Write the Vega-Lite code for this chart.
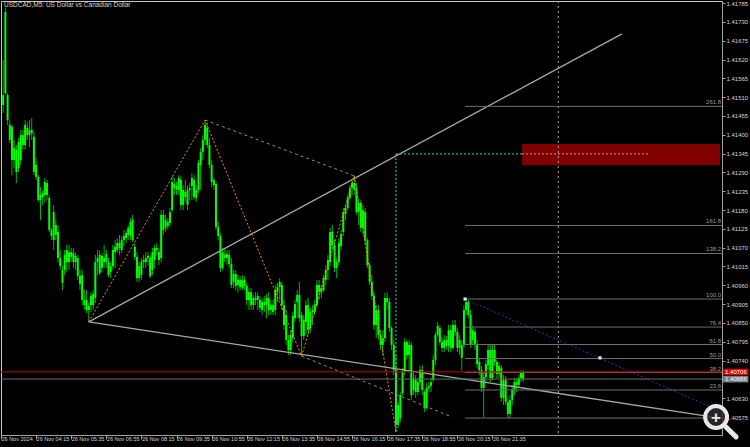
{
"$schema":"https://vega.github.io/schema/vega-lite/v6.json",
"width":721,"height":434,
"autosize":{"type":"none"},
"padding":{"left":1,"top":1,"right":28,"bottom":12},
"background":"#000000",
"config":{"view":{"stroke":"#c8c8c8","strokeWidth":1},"font":"Liberation Sans","axis":{"labelOverlap":false,"labelBound":false,"labelFlush":false}},
"title":{"text":"USDCAD,M5:  US Dollar vs Canadian Dollar","anchor":"start","frame":"group","orient":"top","offset":-8,"baseline":"top","dx":3,"fontSize":6.5,"fontWeight":"normal","color":"#d4d4d4","font":"Liberation Sans"},
"datasets":{
"bars":[
{"i":1,"o":1.41487,"h":1.41619,"l":1.41464,"c":1.41516},
{"i":2,"o":1.41759,"h":1.41771,"l":1.41516,"c":1.41522},
{"i":3,"o":1.41516,"h":1.41522,"l":1.41429,"c":1.41443},
{"i":4,"o":1.41429,"h":1.41443,"l":1.41376,"c":1.41385},
{"i":5,"o":1.41423,"h":1.41429,"l":1.41282,"c":1.41326},
{"i":6,"o":1.41326,"h":1.41385,"l":1.41303,"c":1.41361},
{"i":7,"o":1.41356,"h":1.41370,"l":1.41259,"c":1.41291},
{"i":8,"o":1.41303,"h":1.41391,"l":1.41291,"c":1.41379},
{"i":9,"o":1.41326,"h":1.41414,"l":1.41312,"c":1.41399},
{"i":10,"o":1.41399,"h":1.41414,"l":1.41356,"c":1.41370},
{"i":11,"o":1.41370,"h":1.41443,"l":1.41356,"c":1.41429},
{"i":12,"o":1.41420,"h":1.41437,"l":1.41385,"c":1.41399},
{"i":13,"o":1.41399,"h":1.41443,"l":1.41364,"c":1.41414},
{"i":14,"o":1.41414,"h":1.41449,"l":1.41385,"c":1.41405},
{"i":15,"o":1.41394,"h":1.41408,"l":1.41282,"c":1.41291},
{"i":16,"o":1.41312,"h":1.41332,"l":1.41268,"c":1.41277},
{"i":17,"o":1.41277,"h":1.41282,"l":1.41204,"c":1.41209},
{"i":18,"o":1.41209,"h":1.41247,"l":1.41151,"c":1.41224},
{"i":19,"o":1.41218,"h":1.41239,"l":1.41195,"c":1.41230},
{"i":20,"o":1.41224,"h":1.41274,"l":1.41201,"c":1.41262},
{"i":21,"o":1.41259,"h":1.41268,"l":1.41209,"c":1.41224},
{"i":22,"o":1.41215,"h":1.41224,"l":1.41116,"c":1.41122},
{"i":23,"o":1.41122,"h":1.41128,"l":1.41092,"c":1.41104},
{"i":24,"o":1.41092,"h":1.41195,"l":1.41063,"c":1.41174},
{"i":25,"o":1.41136,"h":1.41151,"l":1.41092,"c":1.41107},
{"i":26,"o":1.41116,"h":1.41136,"l":1.41028,"c":1.41040},
{"i":27,"o":1.41040,"h":1.41063,"l":1.41005,"c":1.41016},
{"i":28,"o":1.41005,"h":1.41019,"l":1.40946,"c":1.40967},
{"i":29,"o":1.41005,"h":1.41063,"l":1.40990,"c":1.41049},
{"i":30,"o":1.41028,"h":1.41078,"l":1.40999,"c":1.41063},
{"i":31,"o":1.41057,"h":1.41078,"l":1.41005,"c":1.41028},
{"i":32,"o":1.41043,"h":1.41069,"l":1.41028,"c":1.41057},
{"i":33,"o":1.41054,"h":1.41069,"l":1.41011,"c":1.41028},
{"i":34,"o":1.41028,"h":1.41057,"l":1.41005,"c":1.41046},
{"i":35,"o":1.41040,"h":1.41049,"l":1.40976,"c":1.40987},
{"i":36,"o":1.40987,"h":1.41005,"l":1.40946,"c":1.40964},
{"i":37,"o":1.40990,"h":1.41005,"l":1.40902,"c":1.40917},
{"i":38,"o":1.40917,"h":1.40946,"l":1.40888,"c":1.40902},
{"i":39,"o":1.40917,"h":1.40946,"l":1.40879,"c":1.40888},
{"i":40,"o":1.40888,"h":1.40911,"l":1.40853,"c":1.40900},
{"i":41,"o":1.40902,"h":1.40940,"l":1.40882,"c":1.40929},
{"i":42,"o":1.40902,"h":1.40946,"l":1.40888,"c":1.40935},
{"i":43,"o":1.40923,"h":1.41049,"l":1.40908,"c":1.41028},
{"i":44,"o":1.41028,"h":1.41063,"l":1.40990,"c":1.41040},
{"i":45,"o":1.41049,"h":1.41063,"l":1.40990,"c":1.40996},
{"i":46,"o":1.41011,"h":1.41054,"l":1.40999,"c":1.41046},
{"i":47,"o":1.41040,"h":1.41078,"l":1.41011,"c":1.41028},
{"i":48,"o":1.41028,"h":1.41063,"l":1.41011,"c":1.41052},
{"i":49,"o":1.41028,"h":1.41040,"l":1.40984,"c":1.40990},
{"i":50,"o":1.40999,"h":1.41028,"l":1.40981,"c":1.41016},
{"i":51,"o":1.41016,"h":1.41078,"l":1.41005,"c":1.41063},
{"i":52,"o":1.41057,"h":1.41092,"l":1.41011,"c":1.41072},
{"i":53,"o":1.41063,"h":1.41098,"l":1.41054,"c":1.41084},
{"i":54,"o":1.41084,"h":1.41107,"l":1.41049,"c":1.41069},
{"i":55,"o":1.41063,"h":1.41104,"l":1.41054,"c":1.41092},
{"i":56,"o":1.41092,"h":1.41122,"l":1.41075,"c":1.41104},
{"i":57,"o":1.41098,"h":1.41122,"l":1.41084,"c":1.41113},
{"i":58,"o":1.41107,"h":1.41136,"l":1.41092,"c":1.41128},
{"i":59,"o":1.41104,"h":1.41157,"l":1.41092,"c":1.41145},
{"i":60,"o":1.41151,"h":1.41166,"l":1.41087,"c":1.41092},
{"i":61,"o":1.41072,"h":1.41084,"l":1.41034,"c":1.41043},
{"i":62,"o":1.41043,"h":1.41057,"l":1.40970,"c":1.40981},
{"i":63,"o":1.40981,"h":1.41028,"l":1.40970,"c":1.41016},
{"i":64,"o":1.40990,"h":1.41040,"l":1.40976,"c":1.41028},
{"i":65,"o":1.41028,"h":1.41049,"l":1.41011,"c":1.41034},
{"i":66,"o":1.41028,"h":1.41057,"l":1.41011,"c":1.41040},
{"i":67,"o":1.41040,"h":1.41057,"l":1.41019,"c":1.41046},
{"i":68,"o":1.41040,"h":1.41049,"l":1.40981,"c":1.40987},
{"i":69,"o":1.41005,"h":1.41069,"l":1.40990,"c":1.41057},
{"i":70,"o":1.41034,"h":1.41078,"l":1.41011,"c":1.41069},
{"i":71,"o":1.41069,"h":1.41084,"l":1.41049,"c":1.41063},
{"i":72,"o":1.41057,"h":1.41069,"l":1.41019,"c":1.41034},
{"i":73,"o":1.41040,"h":1.41180,"l":1.41028,"c":1.41166},
{"i":74,"o":1.41166,"h":1.41180,"l":1.41107,"c":1.41122},
{"i":75,"o":1.41128,"h":1.41166,"l":1.41116,"c":1.41151},
{"i":76,"o":1.41145,"h":1.41157,"l":1.41122,"c":1.41133},
{"i":77,"o":1.41142,"h":1.41186,"l":1.41133,"c":1.41174},
{"i":78,"o":1.41180,"h":1.41280,"l":1.41174,"c":1.41262},
{"i":79,"o":1.41256,"h":1.41274,"l":1.41224,"c":1.41244},
{"i":80,"o":1.41239,"h":1.41262,"l":1.41224,"c":1.41250},
{"i":81,"o":1.41239,"h":1.41282,"l":1.41224,"c":1.41274},
{"i":82,"o":1.41268,"h":1.41280,"l":1.41180,"c":1.41195},
{"i":83,"o":1.41195,"h":1.41253,"l":1.41180,"c":1.41239},
{"i":84,"o":1.41233,"h":1.41268,"l":1.41204,"c":1.41218},
{"i":85,"o":1.41195,"h":1.41253,"l":1.41180,"c":1.41239},
{"i":86,"o":1.41239,"h":1.41259,"l":1.41209,"c":1.41244},
{"i":87,"o":1.41250,"h":1.41288,"l":1.41209,"c":1.41274},
{"i":88,"o":1.41268,"h":1.41282,"l":1.41209,"c":1.41218},
{"i":89,"o":1.41215,"h":1.41253,"l":1.41204,"c":1.41239},
{"i":90,"o":1.41239,"h":1.41326,"l":1.41230,"c":1.41318},
{"i":91,"o":1.41312,"h":1.41361,"l":1.41239,"c":1.41350},
{"i":92,"o":1.41350,"h":1.41399,"l":1.41326,"c":1.41385},
{"i":93,"o":1.41385,"h":1.41443,"l":1.41370,"c":1.41429},
{"i":94,"o":1.41420,"h":1.41434,"l":1.41361,"c":1.41370},
{"i":95,"o":1.41370,"h":1.41391,"l":1.41303,"c":1.41312},
{"i":96,"o":1.41312,"h":1.41326,"l":1.41247,"c":1.41262},
{"i":97,"o":1.41268,"h":1.41274,"l":1.41239,"c":1.41253},
{"i":98,"o":1.41256,"h":1.41262,"l":1.41122,"c":1.41130},
{"i":99,"o":1.41130,"h":1.41145,"l":1.41092,"c":1.41104},
{"i":100,"o":1.41104,"h":1.41113,"l":1.40999,"c":1.41011},
{"i":101,"o":1.41011,"h":1.41069,"l":1.41005,"c":1.41057},
{"i":102,"o":1.41049,"h":1.41069,"l":1.41028,"c":1.41040},
{"i":103,"o":1.41040,"h":1.41063,"l":1.41019,"c":1.41052},
{"i":104,"o":1.41049,"h":1.41063,"l":1.41011,"c":1.41022},
{"i":105,"o":1.41022,"h":1.41040,"l":1.40952,"c":1.40961},
{"i":106,"o":1.40970,"h":1.41005,"l":1.40952,"c":1.40993},
{"i":107,"o":1.40993,"h":1.41005,"l":1.40946,"c":1.40958},
{"i":108,"o":1.40961,"h":1.40990,"l":1.40940,"c":1.40976},
{"i":109,"o":1.40976,"h":1.40987,"l":1.40946,"c":1.40955},
{"i":110,"o":1.40952,"h":1.40990,"l":1.40946,"c":1.40976},
{"i":111,"o":1.40976,"h":1.40987,"l":1.40946,"c":1.40958},
{"i":112,"o":1.40958,"h":1.40967,"l":1.40902,"c":1.40917},
{"i":113,"o":1.40917,"h":1.40952,"l":1.40888,"c":1.40940},
{"i":114,"o":1.40940,"h":1.40952,"l":1.40888,"c":1.40902},
{"i":115,"o":1.40902,"h":1.40932,"l":1.40888,"c":1.40923},
{"i":116,"o":1.40923,"h":1.40940,"l":1.40902,"c":1.40917},
{"i":117,"o":1.40917,"h":1.40940,"l":1.40888,"c":1.40929},
{"i":118,"o":1.40917,"h":1.40929,"l":1.40882,"c":1.40894},
{"i":119,"o":1.40888,"h":1.40923,"l":1.40873,"c":1.40911},
{"i":120,"o":1.40911,"h":1.40929,"l":1.40882,"c":1.40902},
{"i":121,"o":1.40902,"h":1.40935,"l":1.40864,"c":1.40923},
{"i":122,"o":1.40923,"h":1.40940,"l":1.40873,"c":1.40888},
{"i":123,"o":1.40888,"h":1.40917,"l":1.40873,"c":1.40902},
{"i":124,"o":1.40902,"h":1.40917,"l":1.40873,"c":1.40882},
{"i":125,"o":1.40888,"h":1.40961,"l":1.40873,"c":1.40946},
{"i":126,"o":1.40940,"h":1.40967,"l":1.40911,"c":1.40955},
{"i":127,"o":1.40955,"h":1.40981,"l":1.40917,"c":1.40970},
{"i":128,"o":1.40961,"h":1.40970,"l":1.40888,"c":1.40902},
{"i":129,"o":1.40902,"h":1.40917,"l":1.40829,"c":1.40844},
{"i":130,"o":1.40873,"h":1.40888,"l":1.40786,"c":1.40800},
{"i":131,"o":1.40800,"h":1.40815,"l":1.40756,"c":1.40771},
{"i":132,"o":1.40771,"h":1.40829,"l":1.40756,"c":1.40815},
{"i":133,"o":1.40806,"h":1.40882,"l":1.40794,"c":1.40870},
{"i":134,"o":1.40864,"h":1.40917,"l":1.40853,"c":1.40905},
{"i":135,"o":1.40911,"h":1.40946,"l":1.40864,"c":1.40932},
{"i":136,"o":1.40932,"h":1.40970,"l":1.40853,"c":1.40864},
{"i":137,"o":1.40873,"h":1.40882,"l":1.40753,"c":1.40812},
{"i":138,"o":1.40812,"h":1.40873,"l":1.40800,"c":1.40859},
{"i":139,"o":1.40853,"h":1.40917,"l":1.40815,"c":1.40902},
{"i":140,"o":1.40902,"h":1.40923,"l":1.40815,"c":1.40829},
{"i":141,"o":1.40835,"h":1.40894,"l":1.40821,"c":1.40882},
{"i":142,"o":1.40882,"h":1.40902,"l":1.40844,"c":1.40888},
{"i":143,"o":1.40882,"h":1.40917,"l":1.40873,"c":1.40905},
{"i":144,"o":1.40902,"h":1.40976,"l":1.40894,"c":1.40961},
{"i":145,"o":1.40961,"h":1.40976,"l":1.40917,"c":1.40940},
{"i":146,"o":1.40940,"h":1.40961,"l":1.40923,"c":1.40952},
{"i":147,"o":1.40946,"h":1.40990,"l":1.40940,"c":1.40981},
{"i":148,"o":1.40976,"h":1.41019,"l":1.40961,"c":1.41005},
{"i":149,"o":1.41005,"h":1.41049,"l":1.40976,"c":1.41034},
{"i":150,"o":1.41028,"h":1.41128,"l":1.41016,"c":1.41116},
{"i":151,"o":1.41116,"h":1.41136,"l":1.41063,"c":1.41078},
{"i":152,"o":1.41078,"h":1.41092,"l":1.40999,"c":1.41011},
{"i":153,"o":1.41011,"h":1.41040,"l":1.40981,"c":1.41028},
{"i":154,"o":1.41028,"h":1.41098,"l":1.41019,"c":1.41084},
{"i":155,"o":1.41075,"h":1.41122,"l":1.41063,"c":1.41110},
{"i":156,"o":1.41116,"h":1.41186,"l":1.41104,"c":1.41174},
{"i":157,"o":1.41168,"h":1.41195,"l":1.41151,"c":1.41186},
{"i":158,"o":1.41186,"h":1.41224,"l":1.41180,"c":1.41215},
{"i":159,"o":1.41215,"h":1.41253,"l":1.41209,"c":1.41244},
{"i":160,"o":1.41244,"h":1.41265,"l":1.41224,"c":1.41259},
{"i":161,"o":1.41259,"h":1.41280,"l":1.41224,"c":1.41239},
{"i":162,"o":1.41244,"h":1.41259,"l":1.41166,"c":1.41174},
{"i":163,"o":1.41174,"h":1.41215,"l":1.41136,"c":1.41201},
{"i":164,"o":1.41201,"h":1.41209,"l":1.41116,"c":1.41128},
{"i":165,"o":1.41128,"h":1.41195,"l":1.41107,"c":1.41180},
{"i":166,"o":1.41174,"h":1.41186,"l":1.41078,"c":1.41092},
{"i":167,"o":1.41092,"h":1.41098,"l":1.41011,"c":1.41019},
{"i":168,"o":1.41019,"h":1.41028,"l":1.40961,"c":1.40970},
{"i":169,"o":1.40970,"h":1.40990,"l":1.40917,"c":1.40929},
{"i":170,"o":1.40929,"h":1.40940,"l":1.40829,"c":1.40844},
{"i":171,"o":1.40844,"h":1.40902,"l":1.40806,"c":1.40888},
{"i":172,"o":1.40888,"h":1.40902,"l":1.40800,"c":1.40815},
{"i":173,"o":1.40815,"h":1.40829,"l":1.40771,"c":1.40786},
{"i":174,"o":1.40786,"h":1.40829,"l":1.40756,"c":1.40806},
{"i":175,"o":1.40806,"h":1.40938,"l":1.40794,"c":1.40923},
{"i":176,"o":1.40923,"h":1.40940,"l":1.40888,"c":1.40911},
{"i":177,"o":1.40911,"h":1.40923,"l":1.40824,"c":1.40835},
{"i":178,"o":1.40835,"h":1.40841,"l":1.40771,"c":1.40786},
{"i":179,"o":1.40786,"h":1.40800,"l":1.40698,"c":1.40712},
{"i":180,"o":1.40712,"h":1.40756,"l":1.40531,"c":1.40552},
{"i":181,"o":1.40552,"h":1.40619,"l":1.40543,"c":1.40610},
{"i":182,"o":1.40572,"h":1.40648,"l":1.40560,"c":1.40639},
{"i":183,"o":1.40645,"h":1.40718,"l":1.40637,"c":1.40707},
{"i":184,"o":1.40707,"h":1.40806,"l":1.40698,"c":1.40794},
{"i":185,"o":1.40794,"h":1.40800,"l":1.40742,"c":1.40756},
{"i":186,"o":1.40756,"h":1.40800,"l":1.40707,"c":1.40786},
{"i":187,"o":1.40786,"h":1.40794,"l":1.40625,"c":1.40639},
{"i":188,"o":1.40654,"h":1.40707,"l":1.40639,"c":1.40689},
{"i":189,"o":1.40683,"h":1.40698,"l":1.40631,"c":1.40648},
{"i":190,"o":1.40648,"h":1.40689,"l":1.40639,"c":1.40677},
{"i":191,"o":1.40677,"h":1.40724,"l":1.40669,"c":1.40712},
{"i":192,"o":1.40712,"h":1.40727,"l":1.40639,"c":1.40654},
{"i":193,"o":1.40648,"h":1.40654,"l":1.40590,"c":1.40601},
{"i":194,"o":1.40601,"h":1.40675,"l":1.40596,"c":1.40660},
{"i":195,"o":1.40660,"h":1.40677,"l":1.40648,"c":1.40666},
{"i":196,"o":1.40666,"h":1.40689,"l":1.40648,"c":1.40677},
{"i":197,"o":1.40683,"h":1.40756,"l":1.40677,"c":1.40742},
{"i":198,"o":1.40742,"h":1.40824,"l":1.40727,"c":1.40815},
{"i":199,"o":1.40815,"h":1.40853,"l":1.40809,"c":1.40841},
{"i":200,"o":1.40835,"h":1.40844,"l":1.40786,"c":1.40794},
{"i":201,"o":1.40794,"h":1.40806,"l":1.40765,"c":1.40777},
{"i":202,"o":1.40777,"h":1.40815,"l":1.40765,"c":1.40800},
{"i":203,"o":1.40800,"h":1.40812,"l":1.40771,"c":1.40783},
{"i":204,"o":1.40783,"h":1.40844,"l":1.40765,"c":1.40829},
{"i":205,"o":1.40829,"h":1.40844,"l":1.40765,"c":1.40777},
{"i":206,"o":1.40777,"h":1.40859,"l":1.40771,"c":1.40844},
{"i":207,"o":1.40844,"h":1.40859,"l":1.40812,"c":1.40824},
{"i":208,"o":1.40824,"h":1.40835,"l":1.40765,"c":1.40777},
{"i":209,"o":1.40777,"h":1.40815,"l":1.40756,"c":1.40800},
{"i":210,"o":1.40786,"h":1.40800,"l":1.40712,"c":1.40748},
{"i":211,"o":1.40786,"h":1.40902,"l":1.40777,"c":1.40888},
{"i":212,"o":1.40888,"h":1.40920,"l":1.40873,"c":1.40911},
{"i":213,"o":1.40911,"h":1.40917,"l":1.40864,"c":1.40873},
{"i":214,"o":1.40873,"h":1.40888,"l":1.40777,"c":1.40786},
{"i":215,"o":1.40800,"h":1.40841,"l":1.40786,"c":1.40829},
{"i":216,"o":1.40824,"h":1.40835,"l":1.40771,"c":1.40786},
{"i":217,"o":1.40786,"h":1.40800,"l":1.40718,"c":1.40730},
{"i":218,"o":1.40736,"h":1.40748,"l":1.40698,"c":1.40712},
{"i":219,"o":1.40712,"h":1.40724,"l":1.40648,"c":1.40660},
{"i":220,"o":1.40660,"h":1.40704,"l":1.40575,"c":1.40692},
{"i":221,"o":1.40692,"h":1.40742,"l":1.40677,"c":1.40730},
{"i":222,"o":1.40727,"h":1.40786,"l":1.40712,"c":1.40771},
{"i":223,"o":1.40771,"h":1.40789,"l":1.40677,"c":1.40689},
{"i":224,"o":1.40689,"h":1.40786,"l":1.40683,"c":1.40771},
{"i":225,"o":1.40771,"h":1.40786,"l":1.40724,"c":1.40736},
{"i":226,"o":1.40736,"h":1.40742,"l":1.40689,"c":1.40701},
{"i":227,"o":1.40701,"h":1.40736,"l":1.40689,"c":1.40724},
{"i":228,"o":1.40718,"h":1.40727,"l":1.40619,"c":1.40631},
{"i":229,"o":1.40631,"h":1.40698,"l":1.40610,"c":1.40683},
{"i":230,"o":1.40683,"h":1.40695,"l":1.40610,"c":1.40619},
{"i":231,"o":1.40619,"h":1.40631,"l":1.40572,"c":1.40584},
{"i":232,"o":1.40584,"h":1.40639,"l":1.40572,"c":1.40625},
{"i":233,"o":1.40625,"h":1.40669,"l":1.40610,"c":1.40654},
{"i":234,"o":1.40654,"h":1.40689,"l":1.40639,"c":1.40677},
{"i":235,"o":1.40677,"h":1.40689,"l":1.40648,"c":1.40669},
{"i":236,"o":1.40669,"h":1.40698,"l":1.40660,"c":1.40689},
{"i":237,"o":1.40689,"h":1.40712,"l":1.40677,"c":1.40704},
{"i":238,"o":1.40704,"h":1.40712,"l":1.40677,"c":1.40686}
],
"obj":[
{"g":"up","i":40,"p":1.40853},{"g":"up","i":283,"p":1.41695},
{"g":"lo","i":40,"p":1.40853},{"g":"lo","i":327.7,"p":1.40572},
{"g":"zz","i":40,"p":1.40853},{"g":"zz","i":93,"p":1.41443},{"g":"zz","i":137,"p":1.40753},{"g":"zz","i":161,"p":1.41280},{"g":"zz","i":180,"p":1.40531},
{"g":"chA","i":93,"p":1.41443},{"g":"chA","i":161,"p":1.41280},
{"g":"chB","i":137,"p":1.40753},{"g":"chB","i":205.6,"p":1.40575},
{"g":"cv","i":180,"p":1.40531},{"g":"cv","i":180,"p":1.41344},
{"g":"ch","i":180,"p":1.41344},{"g":"ch","i":237.5,"p":1.41344},
{"g":"ch2","i":237.5,"p":1.41344},{"g":"ch2","i":295.8,"p":1.41344},
{"g":"pu","i":211.5,"p":1.40920},{"g":"pu","i":328.6,"p":1.40590}
],
"fib":[
{"lv":"0.0","p":1.40572},{"lv":"23.6","p":1.40654},{"lv":"38.2","p":1.40705},{"lv":"50.0","p":1.40746},{"lv":"61.8","p":1.40787},{"lv":"76.4","p":1.40838},{"lv":"100.0","p":1.40920},{"lv":"138.2","p":1.41053},{"lv":"161.8","p":1.41135},{"lv":"261.8","p":1.41483}
],
"tags":[
{"k":"ask","i":329.1,"i2":340.6,"p":1.40716,"p2":1.40697,"pm":1.40707,"t":"1.40706"},
{"k":"bid","i":329.1,"i2":340.6,"p":1.40695,"p2":1.40676,"pm":1.40686,"t":"1.40686"}
]
},
"layer":[
{"data":{"values":[{"i":237.5,"i2":327.7,"p":1.41373,"p2":1.41312}]},
 "mark":{"type":"rect","color":"#800000","clip":true},
 "encoding":{
  "x":{"field":"i","type":"quantitative","scale":{"domain":[0,328.6],"nice":false,"zero":false,"padding":0},
   "axis":{"title":null,"values":[0,16,32,48,64,80,96,112,128,144,160,176,192,208,224],"tickCount":60,
    "labelExpr":"['26 Nov 2024','26 Nov 04:15','26 Nov 05:35','26 Nov 06:55','26 Nov 08:15','26 Nov 09:35','26 Nov 10:55','26 Nov 12:15','26 Nov 13:35','26 Nov 14:55','26 Nov 16:15','26 Nov 17:35','26 Nov 18:55','26 Nov 20:15','26 Nov 21:35'][round(datum.value/16)]",
    "grid":false,"labelAlign":"left","labelDx":2,"labelBaseline":"top","labelPadding":-3,"labelFontSize":5.5,"labelColor":"#d4d4d4","labelFont":"Liberation Sans","tickSize":4,"tickColor":"#a0a0a0","domainColor":"#a0a0a0","labelFlush":false,"labelOverlap":false,"labelBound":false}},
  "x2":{"field":"i2"},
  "y":{"field":"p","type":"quantitative","scale":{"domain":[1.405225,1.41791],"nice":false,"zero":false,"padding":0},
   "axis":{"title":null,"orient":"right","tickCount":60,"values":[1.40575,1.4063,1.40685,1.4074,1.40795,1.4085,1.40905,1.4096,1.41015,1.4107,1.41125,1.4118,1.41235,1.4129,1.41345,1.414,1.41455,1.4151,1.41565,1.4162,1.41675,1.4173,1.41785],
    "format":".5f","grid":false,"labelAlign":"left","labelBaseline":"middle","labelPadding":1,"labelFontSize":6,"labelColor":"#d4d4d4","labelFont":"Liberation Sans","tickSize":3,"tickColor":"#a0a0a0","domainColor":"#a0a0a0","labelOverlap":false,"labelFlush":false,"labelBound":false}},
  "y2":{"field":"p2"}}},
{"data":{"name":"bars"},
 "mark":{"type":"rule","color":"#00b400","strokeWidth":1,"clip":true},
 "encoding":{"x":{"field":"i","type":"quantitative"},"y":{"field":"l","type":"quantitative"},"y2":{"field":"h"}}},
{"data":{"name":"bars"},
 "mark":{"type":"bar","color":"#00ff00","size":2,"clip":true},
 "encoding":{"x":{"field":"i","type":"quantitative"},"y":{"field":"o","type":"quantitative"},"y2":{"field":"c"}}},
{"data":{"name":"obj"},"transform":[{"filter":"datum.g=='up'||datum.g=='lo'"}],
 "mark":{"type":"line","color":"#a8a8a8","strokeWidth":1.3,"clip":true},
 "encoding":{"x":{"field":"i","type":"quantitative"},"y":{"field":"p","type":"quantitative"},"detail":{"field":"g"}}},
{"data":{"name":"obj"},"transform":[{"filter":"datum.g=='chA'||datum.g=='chB'"}],
 "mark":{"type":"line","color":"#8c8c8c","strokeWidth":1,"strokeDash":[3,3],"clip":true},
 "encoding":{"x":{"field":"i","type":"quantitative"},"y":{"field":"p","type":"quantitative"},"detail":{"field":"g"}}},
{"data":{"name":"obj"},"transform":[{"filter":"datum.g=='zz'"}],
 "mark":{"type":"line","color":"#f09000","strokeWidth":1,"strokeDash":[2,2],"clip":true},
 "encoding":{"x":{"field":"i","type":"quantitative"},"y":{"field":"p","type":"quantitative"}}},
{"data":{"name":"obj"},"transform":[{"filter":"datum.g=='cv'||datum.g=='ch'"}],
 "mark":{"type":"line","color":"#20dada","strokeWidth":1,"strokeDash":[2,2],"clip":true},
 "encoding":{"x":{"field":"i","type":"quantitative"},"y":{"field":"p","type":"quantitative"},"detail":{"field":"g"}}},
{"data":{"name":"obj"},"transform":[{"filter":"datum.g=='ch2'"}],
 "mark":{"type":"line","color":"#c8a8a8","strokeWidth":1,"strokeDash":[2,2],"clip":true},
 "encoding":{"x":{"field":"i","type":"quantitative"},"y":{"field":"p","type":"quantitative"}}},
{"data":{"name":"obj"},"transform":[{"filter":"datum.g=='pu'"}],
 "mark":{"type":"line","color":"#5a1e9e","strokeWidth":1,"strokeDash":[2,2],"clip":true},
 "encoding":{"x":{"field":"i","type":"quantitative"},"y":{"field":"p","type":"quantitative"}}},
{"data":{"values":[{"v":254}]},
 "mark":{"type":"rule","color":"#a8a8a8","strokeWidth":1,"strokeDash":[2,3],"clip":true},
 "encoding":{"x":{"field":"v","type":"quantitative"}}},
{"data":{"name":"fib"},
 "mark":{"type":"rule","color":"#6e6e6e","strokeWidth":1,"clip":true},
 "encoding":{"x":{"datum":211.5,"type":"quantitative"},"x2":{"datum":328.6},"y":{"field":"p","type":"quantitative"}}},
{"data":{"name":"fib"},"transform":[{"filter":"datum.lv!='0.0'"}],
 "mark":{"type":"text","color":"#9a9a9a","fontSize":6,"align":"right","baseline":"bottom","dy":-1,"clip":true},
 "encoding":{"x":{"datum":328.2,"type":"quantitative"},"y":{"field":"p","type":"quantitative"},"text":{"field":"lv"}}},
{"data":{"values":[{"p":1.40707,"k":"ask"},{"p":1.40686,"k":"bid"}]},
 "mark":{"type":"rule","strokeWidth":1,"clip":true},
 "encoding":{"y":{"field":"p","type":"quantitative"},
  "color":{"field":"k","type":"nominal","scale":{"domain":["ask","bid"],"range":["#d00000","#6a6a6a"]},"legend":null}}},
{"data":{"values":[{"i":211.5,"p":1.4092},{"i":273,"p":1.40748}]},
 "mark":{"type":"point","shape":"square","size":10,"filled":true,"color":"#ece4ff","opacity":1},
 "encoding":{"x":{"field":"i","type":"quantitative"},"y":{"field":"p","type":"quantitative"}}},
{"data":{"name":"tags"},
 "mark":{"type":"rect","clip":false},
 "encoding":{"x":{"field":"i","type":"quantitative"},"x2":{"field":"i2"},"y":{"field":"p","type":"quantitative"},"y2":{"field":"p2"},
  "fill":{"field":"k","type":"nominal","scale":{"domain":["ask","bid"],"range":["#e00000","#708090"]},"legend":null}}},
{"data":{"name":"tags"},
 "mark":{"type":"text","clip":false,"color":"#ffffff","fontSize":6,"align":"left","baseline":"middle","dx":2},
 "encoding":{"x":{"field":"i","type":"quantitative"},"y":{"field":"pm","type":"quantitative"},"text":{"field":"t"}}},
{"data":{"values":[{"i":330.4,"p":1.40546},{"i":335,"p":1.40517}]},
 "mark":{"type":"line","color":"#e8e8e8","strokeWidth":5,"strokeCap":"round","clip":false},
 "encoding":{"x":{"field":"i","type":"quantitative"},"y":{"field":"p","type":"quantitative"}}},
{"data":{"values":[{"i":325.9,"p":1.40575,"t":"+"}]},
 "mark":{"type":"point","shape":"circle","size":480,"filled":false,"stroke":"#e8e8e8","strokeWidth":4,"fill":"#2a2a2a","fillOpacity":0.85,"opacity":1,"clip":false},
 "encoding":{"x":{"field":"i","type":"quantitative"},"y":{"field":"p","type":"quantitative"}}},
{"data":{"values":[{"i":325.9,"p":1.40575,"t":"+"}]},
 "mark":{"type":"text","color":"#e8e8e8","fontSize":17,"fontWeight":"bold","align":"center","baseline":"middle","dy":1,"clip":false},
 "encoding":{"x":{"field":"i","type":"quantitative"},"y":{"field":"p","type":"quantitative"},"text":{"field":"t"}}}
]
}
